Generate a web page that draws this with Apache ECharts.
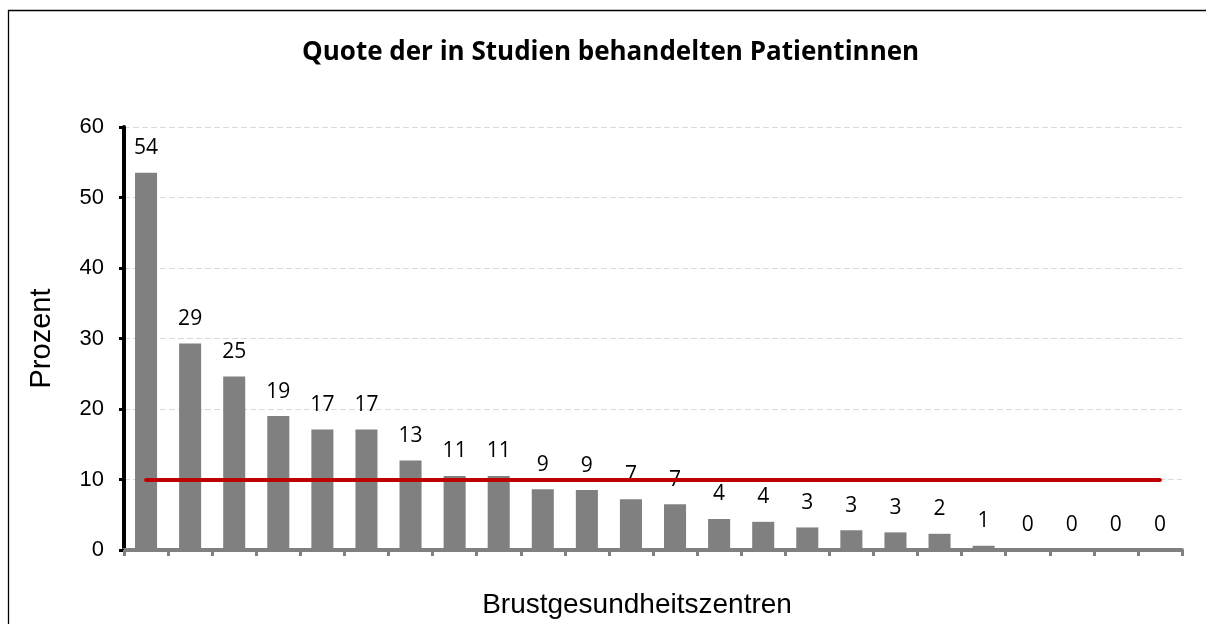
<!DOCTYPE html>
<html>
<head>
<meta charset="utf-8">
<title>Quote der in Studien behandelten Patientinnen</title>
<script src="https://cdn.jsdelivr.net/npm/echarts@6/dist/echarts.min.js"></script>
<style>
  html, body { margin: 0; padding: 0; background: #fff; }
  #chart { width: 1206px; height: 624px; }
</style>
</head>
<body>
<div id="chart"></div>
<script>
// Zentren (keine Beschriftung auf der Achse)
var categories = ['1','2','3','4','5','6','7','8','9','10','11','12',
                  '13','14','15','16','17','18','19','20','21','22','23','24'];
// Quote in Prozent
var values = [53.5, 29.3, 24.6, 19.0, 17.1, 17.1, 12.7, 10.5, 10.5, 8.6, 8.5, 7.2,
              6.5, 4.4, 4.0, 3.2, 2.8, 2.5, 2.3, 0.6, 0, 0, 0, 0];
// Datenbeschriftungen (gerundet)
var labelTexts = [54, 29, 25, 19, 17, 17, 13, 11, 11, 9, 9, 7,
                  7, 4, 4, 3, 3, 3, 2, 1, 0, 0, 0, 0];
var yTicks = [0, 10, 20, 30, 40, 50, 60];
var target = 10;

var chart = echarts.init(document.getElementById('chart'));

var option = {
  animation: false,
  backgroundColor: '#fff',
  graphic: [{
    type: 'rect',
    shape: { x: 8.5, y: 10.5, width: 1400, height: 800 },
    style: { fill: 'none', stroke: '#000', lineWidth: 1.3 },
    silent: true
  }],
  title: {
    text: 'Quote der in Studien behandelten Patientinnen',
    left: 297,
    top: 35,
    textStyle: {
      fontFamily: 'Open Sans',
      fontWeight: 'bold',
      fontSize: 26,
      color: '#000'
    }
  },
  grid: { left: 124, right: 24, top: 127, bottom: 74 },
  xAxis: {
    type: 'category',
    data: categories,
    boundaryGap: true,
    name: 'Brustgesundheitszentren',
    nameLocation: 'middle',
    nameGap: 41,
    nameTextStyle: {
      fontFamily: 'Liberation Sans',
      fontSize: 28,
      color: '#000',
      padding: [0, 32, 0, 0]
    },
    axisLine: { lineStyle: { color: '#808080', width: 4 } },
    axisTick: { show: true, interval: 0, length: 6, lineStyle: { color: '#808080', width: 3 } },
    axisLabel: { show: false },
    splitLine: { show: false }
  },
  yAxis: {
    type: 'value',
    min: yTicks[0],
    max: yTicks[yTicks.length - 1],
    interval: 10,
    name: 'Prozent',
    nameLocation: 'middle',
    nameRotate: 90,
    nameGap: 68,
    nameTextStyle: {
      fontFamily: 'Liberation Sans',
      fontSize: 29,
      color: '#000'
    },
    axisLine: { show: true, lineStyle: { color: '#000', width: 4 } },
    axisTick: { show: true, length: 5, lineStyle: { color: '#000', width: 3 } },
    axisLabel: {
      margin: 20,
      fontFamily: 'Liberation Sans',
      fontSize: 22,
      color: '#000'
    },
    splitLine: { show: true, lineStyle: { color: '#d9d9d9', type: [6, 3], width: 1 } }
  },
  series: [{
    type: 'bar',
    data: values,
    barWidth: '50%',
    itemStyle: { color: '#808080' },
    label: {
      show: true,
      position: 'top',
      distance: 14,
      fontFamily: 'Open Sans',
      fontSize: 21,
      color: '#000',
      formatter: function (p) { return String(labelTexts[p.dataIndex]); }
    },
    markLine: {
      silent: true,
      symbol: 'none',
      label: { show: false },
      lineStyle: { color: '#c00000', width: 4, type: 'solid', cap: 'round' },
      data: [[
        { coord: [categories[0], target] },
        { coord: [categories[categories.length - 1], target] }
      ]]
    }
  }]
};

chart.setOption(option);
</script>
</body>
</html>
